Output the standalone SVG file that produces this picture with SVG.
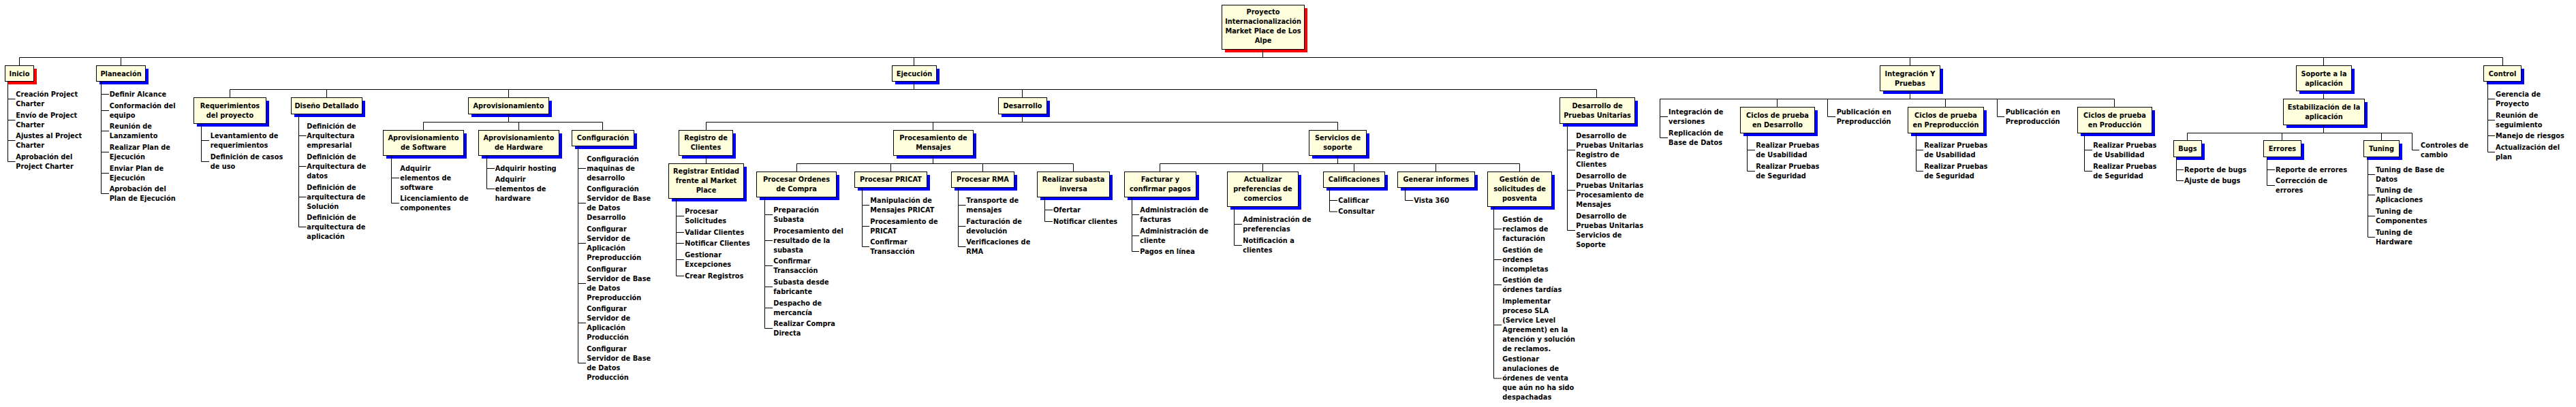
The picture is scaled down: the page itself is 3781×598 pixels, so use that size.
<svg xmlns="http://www.w3.org/2000/svg" width="3781" height="598" viewBox="0 0 3781 598">
<style>
.s{fill:#0000FF}.r{fill:#FF0000}
.b{fill:#FFFFDD;stroke:#000;stroke-width:1}
text{font-family:"DejaVu Sans",Verdana,sans-serif;font-size:9.8px;font-weight:bold;fill:#000}
.c{text-anchor:middle}
.k{stroke:#000;stroke-width:1;fill:none}
</style>
<rect width="3781" height="598" fill="#fff"/>
<g id="nodes">
<g id="n-root"><rect class="r" x="1798" y="12" width="121" height="65"/><rect class="b" x="1793.5" y="7.5" width="121" height="65"/><text class="c" x="1854" y="21.4">Proyecto<tspan x="1854" dy="14">Internacionalización</tspan><tspan x="1854" dy="14">Market Place de Los</tspan><tspan x="1854" dy="14">Alpe</tspan></text></g>
<g id="n-inicio"><rect class="r" x="12" y="101" width="42" height="23"/><rect class="b" x="7.5" y="96.5" width="42" height="23"/><text class="c" x="28.5" y="111.8">Inicio</text></g>
<g id="n-planeacion"><rect class="s" x="146" y="101" width="72" height="23"/><rect class="b" x="141.5" y="96.5" width="72" height="23"/><text class="c" x="177.5" y="111.8">Planeación</text></g>
<g id="n-ejecucion"><rect class="s" x="1314" y="101" width="65" height="23"/><rect class="b" x="1309.5" y="96.5" width="65" height="23"/><text class="c" x="1342" y="111.8">Ejecución</text></g>
<g id="n-integracion"><rect class="s" x="2764" y="101" width="88" height="37"/><rect class="b" x="2759.5" y="96.5" width="88" height="37"/><text class="c" x="2803.5" y="111.5">Integración Y<tspan x="2803.5" dy="14">Pruebas</tspan></text></g>
<g id="n-soporte"><rect class="s" x="3375" y="101" width="81" height="37"/><rect class="b" x="3370.5" y="96.5" width="81" height="37"/><text class="c" x="3411" y="111.5">Soporte a la<tspan x="3411" dy="14">aplicación</tspan></text></g>
<g id="n-control"><rect class="s" x="3650" y="101" width="55" height="23"/><rect class="b" x="3645.5" y="96.5" width="55" height="23"/><text class="c" x="3673" y="111.8">Control</text></g>
<g id="n-requerimientos"><rect class="s" x="289" y="148" width="106" height="38"/><rect class="b" x="284.5" y="143.5" width="106" height="38"/><text class="c" x="337.5" y="158.8">Requerimientos<tspan x="337.5" dy="14">del proyecto</tspan></text></g>
<g id="n-diseno"><rect class="s" x="432" y="148" width="104" height="24"/><rect class="b" x="427.5" y="143.5" width="104" height="24"/><text class="c" x="479.5" y="158.8">Diseño Detallado</text></g>
<g id="n-aprov"><rect class="s" x="692" y="148" width="118" height="24"/><rect class="b" x="687.5" y="143.5" width="118" height="24"/><text class="c" x="746.5" y="158.8">Aprovisionamiento</text></g>
<g id="n-desarrollo"><rect class="s" x="1470" y="148" width="71" height="24"/><rect class="b" x="1465.5" y="143.5" width="71" height="24"/><text class="c" x="1501" y="158.8">Desarrollo</text></g>
<g id="n-dpu"><rect class="s" x="2294" y="148" width="110" height="38"/><rect class="b" x="2289.5" y="143.5" width="110" height="38"/><text class="c" x="2344.5" y="158.8">Desarrollo de<tspan x="2344.5" dy="14">Pruebas Unitarias</tspan></text></g>
<g id="n-sw"><rect class="s" x="567" y="196" width="118" height="37"/><rect class="b" x="562.5" y="191.5" width="118" height="37"/><text class="c" x="621.5" y="205.8">Aprovisionamiento<tspan x="621.5" dy="14">de Software</tspan></text></g>
<g id="n-hw"><rect class="s" x="707" y="196" width="118" height="37"/><rect class="b" x="702.5" y="191.5" width="118" height="37"/><text class="c" x="761.5" y="205.8">Aprovisionamiento<tspan x="761.5" dy="14">de Hardware</tspan></text></g>
<g id="n-config"><rect class="s" x="844" y="196" width="91" height="23"/><rect class="b" x="839.5" y="191.5" width="91" height="23"/><text class="c" x="885" y="205.8">Configuración</text></g>
<g id="n-registro"><rect class="s" x="1001" y="196" width="79" height="37"/><rect class="b" x="996.5" y="191.5" width="79" height="37"/><text class="c" x="1036" y="205.5">Registro de<tspan x="1036" dy="14">Clientes</tspan></text></g>
<g id="n-registrar"><rect class="s" x="986" y="245" width="110" height="51"/><rect class="b" x="981.5" y="240.5" width="110" height="51"/><text class="c" x="1036.5" y="254.5">Registrar Entidad<tspan x="1036.5" dy="14">frente al Market</tspan><tspan x="1036.5" dy="14">Place</tspan></text></g>
<g id="n-procmsg"><rect class="s" x="1316" y="196" width="117" height="37"/><rect class="b" x="1311.5" y="191.5" width="117" height="37"/><text class="c" x="1370" y="205.8">Procesamiento de<tspan x="1370" dy="14">Mensajes</tspan></text></g>
<g id="n-servicios"><rect class="s" x="1926" y="196" width="84" height="37"/><rect class="b" x="1921.5" y="191.5" width="84" height="37"/><text class="c" x="1963.5" y="205.5">Servicios de<tspan x="1963.5" dy="14">soporte</tspan></text></g>
<g id="n-ordenes"><rect class="s" x="1115" y="257" width="117" height="37"/><rect class="b" x="1110.5" y="252.5" width="117" height="37"/><text class="c" x="1169" y="266.5">Procesar Ordenes<tspan x="1169" dy="14">de Compra</tspan></text></g>
<g id="n-pricat"><rect class="s" x="1259" y="257" width="106" height="23"/><rect class="b" x="1254.5" y="252.5" width="106" height="23"/><text class="c" x="1307.5" y="266.5">Procesar PRICAT</text></g>
<g id="n-rma"><rect class="s" x="1401" y="257" width="92" height="23"/><rect class="b" x="1396.5" y="252.5" width="92" height="23"/><text class="c" x="1442.5" y="266.5">Procesar RMA</text></g>
<g id="n-subasta"><rect class="s" x="1527" y="257" width="106" height="37"/><rect class="b" x="1522.5" y="252.5" width="106" height="37"/><text class="c" x="1575.5" y="266.5">Realizar subasta<tspan x="1575.5" dy="14">inversa</tspan></text></g>
<g id="n-facturar"><rect class="s" x="1655" y="257" width="105" height="37"/><rect class="b" x="1650.5" y="252.5" width="105" height="37"/><text class="c" x="1703" y="266.5">Facturar y<tspan x="1703" dy="14">confirmar pagos</tspan></text></g>
<g id="n-actualizar"><rect class="s" x="1806" y="257" width="104" height="51"/><rect class="b" x="1801.5" y="252.5" width="104" height="51"/><text class="c" x="1853.5" y="266.5">Actualizar<tspan x="1853.5" dy="14">preferencias de</tspan><tspan x="1853.5" dy="14">comercios</tspan></text></g>
<g id="n-calif"><rect class="s" x="1947" y="257" width="90" height="23"/><rect class="b" x="1942.5" y="252.5" width="90" height="23"/><text class="c" x="1987.5" y="266.5">Calificaciones</text></g>
<g id="n-generar"><rect class="s" x="2056" y="257" width="113" height="23"/><rect class="b" x="2051.5" y="252.5" width="113" height="23"/><text class="c" x="2108" y="266.5">Generar informes</text></g>
<g id="n-posventa"><rect class="s" x="2188" y="257" width="94" height="51"/><rect class="b" x="2183.5" y="252.5" width="94" height="51"/><text class="c" x="2230.5" y="266.5">Gestión de<tspan x="2230.5" dy="14">solicitudes de</tspan><tspan x="2230.5" dy="14">posventa</tspan></text></g>
<g id="n-ciclos-dev"><rect class="s" x="2559" y="162" width="109" height="38"/><rect class="b" x="2554.5" y="157.5" width="109" height="38"/><text class="c" x="2609" y="172.8">Ciclos de prueba<tspan x="2609" dy="14">en Desarrollo</tspan></text></g>
<g id="n-ciclos-pre"><rect class="s" x="2805" y="162" width="111" height="38"/><rect class="b" x="2800.5" y="157.5" width="111" height="38"/><text class="c" x="2856" y="172.8">Ciclos de prueba<tspan x="2856" dy="14">en Preproducción</tspan></text></g>
<g id="n-ciclos-prod"><rect class="s" x="3054" y="162" width="109" height="38"/><rect class="b" x="3049.5" y="157.5" width="109" height="38"/><text class="c" x="3104" y="172.8">Ciclos de prueba<tspan x="3104" dy="14">en Producción</tspan></text></g>
<g id="n-estab"><rect class="s" x="3356" y="150" width="119" height="38"/><rect class="b" x="3351.5" y="145.5" width="119" height="38"/><text class="c" x="3411" y="160.5">Estabilización de la<tspan x="3411" dy="14">aplicación</tspan></text></g>
<g id="n-bugs"><rect class="s" x="3195" y="211" width="41" height="24"/><rect class="b" x="3190.5" y="206.5" width="41" height="24"/><text class="c" x="3211" y="221.5">Bugs</text></g>
<g id="n-errores"><rect class="s" x="3327" y="211" width="55" height="24"/><rect class="b" x="3322.5" y="206.5" width="55" height="24"/><text class="c" x="3350" y="221.5">Errores</text></g>
<g id="n-tuning"><rect class="s" x="3474" y="211" width="52" height="24"/><rect class="b" x="3469.5" y="206.5" width="52" height="24"/><text class="c" x="3495.5" y="221.5">Tuning</text></g>
</g>
<g id="leaves">
<g id="l-inicio">
<text x="23.3" y="141.5">Creación Project<tspan x="23.3" dy="14">Charter</tspan></text>
<text x="23.3" y="172.5">Envío de Project<tspan x="23.3" dy="14">Charter</tspan></text>
<text x="23.3" y="202.8">Ajustes al Project<tspan x="23.3" dy="14">Charter</tspan></text>
<text x="23.3" y="233.8">Aprobación del<tspan x="23.3" dy="14">Project Charter</tspan></text>
</g>
<g id="l-planeacion">
<text x="160.7" y="141.5">Definir Alcance</text>
<text x="160.7" y="158.8">Conformación del<tspan x="160.7" dy="14">equipo</tspan></text>
<text x="160.7" y="188.5">Reunión de<tspan x="160.7" dy="14">Lanzamiento</tspan></text>
<text x="160.7" y="219.8">Realizar Plan de<tspan x="160.7" dy="14">Ejecución</tspan></text>
<text x="160.7" y="250.8">Enviar Plan de<tspan x="160.7" dy="14">Ejecución</tspan></text>
<text x="160.7" y="280.8">Aprobación del<tspan x="160.7" dy="14">Plan de Ejecución</tspan></text>
</g>
<g id="l-requerimientos">
<text x="308.7" y="202.5">Levantamiento de<tspan x="308.7" dy="14">requerimientos</tspan></text>
<text x="308.7" y="233.8">Definición de casos<tspan x="308.7" dy="14">de uso</tspan></text>
</g>
<g id="l-diseno">
<text x="450.3" y="188.8">Definición de<tspan x="450.3" dy="14">Arquitectura</tspan><tspan x="450.3" dy="14">empresarial</tspan></text>
<text x="450.3" y="233.8">Definición de<tspan x="450.3" dy="14">Arquitectura de</tspan><tspan x="450.3" dy="14">datos</tspan></text>
<text x="450.3" y="278.5">Definición de<tspan x="450.3" dy="14">arquitectura de</tspan><tspan x="450.3" dy="14">Solución</tspan></text>
<text x="450.3" y="322.5">Definición de<tspan x="450.3" dy="14">arquitectura de</tspan><tspan x="450.3" dy="14">aplicación</tspan></text>
</g>
<g id="l-sw">
<text x="587.3" y="250.5">Adquirir<tspan x="587.3" dy="14">elementos de</tspan><tspan x="587.3" dy="14">software</tspan></text>
<text x="587.3" y="294.5">Licenciamiento de<tspan x="587.3" dy="14">componentes</tspan></text>
</g>
<g id="l-hw">
<text x="726.7" y="250.5">Adquirir hosting</text>
<text x="726.7" y="266.5">Adquirir<tspan x="726.7" dy="14">elementos de</tspan><tspan x="726.7" dy="14">hardware</tspan></text>
</g>
<g id="l-config">
<text x="861.3" y="236.5">Configuración<tspan x="861.3" dy="14">maquinas de</tspan><tspan x="861.3" dy="14">desarrollo</tspan></text>
<text x="861.3" y="280.5">Configuración<tspan x="861.3" dy="14">Servidor de Base</tspan><tspan x="861.3" dy="14">de Datos</tspan><tspan x="861.3" dy="14">Desarrollo</tspan></text>
<text x="861.3" y="339.5">Configurar<tspan x="861.3" dy="14">Servidor de</tspan><tspan x="861.3" dy="14">Aplicación</tspan><tspan x="861.3" dy="14">Preproducción</tspan></text>
<text x="861.3" y="398.5">Configurar<tspan x="861.3" dy="14">Servidor de Base</tspan><tspan x="861.3" dy="14">de Datos</tspan><tspan x="861.3" dy="14">Preproducción</tspan></text>
<text x="861.3" y="456.5">Configurar<tspan x="861.3" dy="14">Servidor de</tspan><tspan x="861.3" dy="14">Aplicación</tspan><tspan x="861.3" dy="14">Producción</tspan></text>
<text x="861.3" y="515.5">Configurar<tspan x="861.3" dy="14">Servidor de Base</tspan><tspan x="861.3" dy="14">de Datos</tspan><tspan x="861.3" dy="14">Producción</tspan></text>
</g>
<g id="l-registrar">
<text x="1005.3" y="313.5">Procesar<tspan x="1005.3" dy="14">Solicitudes</tspan></text>
<text x="1005.3" y="344.5">Validar Clientes</text>
<text x="1005.3" y="360.5">Notificar Clientes</text>
<text x="1005.3" y="377.5">Gestionar<tspan x="1005.3" dy="14">Excepciones</tspan></text>
<text x="1005.3" y="408.5">Crear Registros</text>
</g>
<g id="l-ordenes">
<text x="1135.3" y="311.5">Preparación<tspan x="1135.3" dy="14">Subasta</tspan></text>
<text x="1135.3" y="342.5">Procesamiento del<tspan x="1135.3" dy="14">resultado de la</tspan><tspan x="1135.3" dy="14">subasta</tspan></text>
<text x="1135.3" y="386.5">Confirmar<tspan x="1135.3" dy="14">Transacción</tspan></text>
<text x="1135.3" y="417.5">Subasta desde<tspan x="1135.3" dy="14">fabricante</tspan></text>
<text x="1135.3" y="448.5">Despacho de<tspan x="1135.3" dy="14">mercancía</tspan></text>
<text x="1135.3" y="478.5">Realizar Compra<tspan x="1135.3" dy="14">Directa</tspan></text>
</g>
<g id="l-pricat">
<text x="1277.3" y="297.5">Manipulación de<tspan x="1277.3" dy="14">Mensajes PRICAT</tspan></text>
<text x="1277.3" y="328.5">Procesamiento de<tspan x="1277.3" dy="14">PRICAT</tspan></text>
<text x="1277.3" y="358.5">Confirmar<tspan x="1277.3" dy="14">Transacción</tspan></text>
</g>
<g id="l-rma">
<text x="1418.3" y="297.5">Transporte de<tspan x="1418.3" dy="14">mensajes</tspan></text>
<text x="1418.3" y="328.5">Facturación de<tspan x="1418.3" dy="14">devolución</tspan></text>
<text x="1418.3" y="358.5">Verificaciones de<tspan x="1418.3" dy="14">RMA</tspan></text>
</g>
<g id="l-subasta">
<text x="1546" y="311.5">Ofertar</text>
<text x="1546" y="328.5">Notificar clientes</text>
</g>
<g id="l-facturar">
<text x="1673.3" y="311.5">Administración de<tspan x="1673.3" dy="14">facturas</tspan></text>
<text x="1673.3" y="342.5">Administración de<tspan x="1673.3" dy="14">cliente</tspan></text>
<text x="1673.3" y="372.5">Pagos en línea</text>
</g>
<g id="l-actualizar">
<text x="1824.3" y="325.8">Administración de<tspan x="1824.3" dy="14">preferencias</tspan></text>
<text x="1824.3" y="356.7">Notificación a<tspan x="1824.3" dy="14">clientes</tspan></text>
</g>
<g id="l-calif">
<text x="1964.3" y="297.5">Calificar</text>
<text x="1964.3" y="314.3">Consultar</text>
</g>
<g id="l-generar">
<text x="2075.3" y="297.5">Vista 360</text>
</g>
<g id="l-posventa">
<text x="2205.3" y="325.5">Gestión de<tspan x="2205.3" dy="14">reclamos de</tspan><tspan x="2205.3" dy="14">facturación</tspan></text>
<text x="2205.3" y="370.5">Gestión de<tspan x="2205.3" dy="14">ordenes</tspan><tspan x="2205.3" dy="14">incompletas</tspan></text>
<text x="2205.3" y="414.5">Gestión de<tspan x="2205.3" dy="14">órdenes tardías</tspan></text>
<text x="2205.3" y="445.5">Implementar<tspan x="2205.3" dy="14">proceso SLA</tspan><tspan x="2205.3" dy="14">(Service Level</tspan><tspan x="2205.3" dy="14">Agreement) en la</tspan><tspan x="2205.3" dy="14">atención y solución</tspan><tspan x="2205.3" dy="14">de reclamos.</tspan></text>
<text x="2205.3" y="531.2">Gestionar<tspan x="2205.3" dy="14">anulaciones de</tspan><tspan x="2205.3" dy="14">órdenes de venta</tspan><tspan x="2205.3" dy="14">que aún no ha sido</tspan><tspan x="2205.3" dy="14">despachadas</tspan></text>
</g>
<g id="l-dpu">
<text x="2313.3" y="202.5">Desarrollo de<tspan x="2313.3" dy="14">Pruebas Unitarias</tspan><tspan x="2313.3" dy="14">Registro de</tspan><tspan x="2313.3" dy="14">Clientes</tspan></text>
<text x="2313.3" y="261.5">Desarrollo de<tspan x="2313.3" dy="14">Pruebas Unitarias</tspan><tspan x="2313.3" dy="14">Procesamiento de</tspan><tspan x="2313.3" dy="14">Mensajes</tspan></text>
<text x="2313.3" y="320.5">Desarrollo de<tspan x="2313.3" dy="14">Pruebas Unitarias</tspan><tspan x="2313.3" dy="14">Servicios de</tspan><tspan x="2313.3" dy="14">Soporte</tspan></text>
</g>
<g id="l-integracion">
<text x="2449.1" y="167.5">Integración de<tspan x="2449.1" dy="14">versiones</tspan></text>
<text x="2449.1" y="198.5">Replicación de<tspan x="2449.1" dy="14">Base de Datos</tspan></text>
</g>
<g id="l-publicacion-1"><text x="2695.7" y="167.5">Publicación en<tspan x="2695.7" dy="14">Preproducción</tspan></text></g>
<g id="l-publicacion-2"><text x="2943.7" y="167.5">Publicación en<tspan x="2943.7" dy="14">Preproducción</tspan></text></g>
<g id="l-ciclos-dev">
<text x="2577.3" y="216.8">Realizar Pruebas<tspan x="2577.3" dy="14">de Usabilidad</tspan></text>
<text x="2577.3" y="247.8">Realizar Pruebas<tspan x="2577.3" dy="14">de Seguridad</tspan></text>
</g>
<g id="l-ciclos-pre">
<text x="2824.3" y="216.8">Realizar Pruebas<tspan x="2824.3" dy="14">de Usabilidad</tspan></text>
<text x="2824.3" y="247.8">Realizar Pruebas<tspan x="2824.3" dy="14">de Seguridad</tspan></text>
</g>
<g id="l-ciclos-prod">
<text x="3072.3" y="216.8">Realizar Pruebas<tspan x="3072.3" dy="14">de Usabilidad</tspan></text>
<text x="3072.3" y="247.8">Realizar Pruebas<tspan x="3072.3" dy="14">de Seguridad</tspan></text>
</g>
<g id="l-bugs">
<text x="3206" y="252.5">Reporte de bugs</text>
<text x="3206" y="268.5">Ajuste de bugs</text>
</g>
<g id="l-errores">
<text x="3340.1" y="252.5">Reporte de errores</text>
<text x="3340.1" y="268.5">Corrección de<tspan x="3340.1" dy="14">errores</tspan></text>
</g>
<g id="l-tuning">
<text x="3487" y="252.5">Tuning de Base de<tspan x="3487" dy="14">Datos</tspan></text>
<text x="3487" y="282.5">Tuning de<tspan x="3487" dy="14">Aplicaciones</tspan></text>
<text x="3487" y="313.5">Tuning de<tspan x="3487" dy="14">Componentes</tspan></text>
<text x="3487" y="344.5">Tuning de<tspan x="3487" dy="14">Hardware</tspan></text>
</g>
<g id="l-controles"><text x="3553.1" y="216.5">Controles de<tspan x="3553.1" dy="14">cambio</tspan></text></g>
<g id="l-control">
<text x="3663.1" y="141.5">Gerencia de<tspan x="3663.1" dy="14">Proyecto</tspan></text>
<text x="3663.1" y="172.5">Reunión de<tspan x="3663.1" dy="14">seguimiento</tspan></text>
<text x="3663.1" y="202.5">Manejo de riesgos</text>
<text x="3663.1" y="219.5">Actualización del<tspan x="3663.1" dy="14">plan</tspan></text>
</g>
</g>
<g id="connectors" class="k">
<path d="M1853.5,72.5V84.5M28.5,84.5H3673.5M28.5,84.5V96.5M177.5,84.5V96.5M1341.5,84.5V96.5M2803.5,84.5V96.5M3410.5,84.5V96.5M3673.5,84.5V96.5"/>
<path d="M1341.5,119.5V131.5M337.5,131.5H2343.5M337.5,131.5V143.5M479.5,131.5V143.5M746.5,131.5V143.5M1500.5,131.5V143.5M2343.5,131.5V143.5"/>
<path d="M746.5,167.5V179.5M621.5,179.5H884.5M621.5,179.5V191.5M761.5,179.5V191.5M884.5,179.5V191.5"/>
<path d="M1500.5,167.5V179.5M1036.5,179.5H1963.5M1036.5,179.5V191.5M1369.5,179.5V191.5M1963.5,179.5V191.5M1036.5,228.5V240.5"/>
<path d="M1369.5,228.5V240.5M1169.5,240.5H1575.5M1169.5,240.5V252.5M1307.5,240.5V252.5M1442.5,240.5V252.5M1575.5,240.5V252.5"/>
<path d="M1963.5,228.5V240.5M1702.5,240.5H2230.5M1702.5,240.5V252.5M1853.5,240.5V252.5M1987.5,240.5V252.5M2107.5,240.5V252.5M2230.5,240.5V252.5"/>
<path d="M2803.5,133.5V145.5M2436.5,145.5H3103.5M2608.5,145.5V157.5M2855.5,145.5V157.5M3103.5,145.5V157.5M2436.5,145.5V202.5M2436.5,171.5H2448M2436.5,202.5H2448M2682.5,145.5V171.5H2694M2931.5,145.5V171.5H2942"/>
<path d="M3410.5,133.5V145.5M3410.5,183.5V195.5M3210.5,195.5H3540.5M3210.5,195.5V206.5M3349.5,195.5V206.5M3495.5,195.5V206.5M3540.5,195.5V220.5H3551"/>
<path d="M11.5,119.5V237.5M11.5,145.5H22.5M11.5,176.5H22.5M11.5,206.5H22.5M11.5,237.5H22.5"/>
<path d="M148.5,119.5V284.5M148.5,138.5H160M148.5,162.5H160M148.5,192.5H160M148.5,223.5H160M148.5,254.5H160M148.5,284.5H160"/>
<path d="M295.5,181.5V237.5M295.5,206.5H307M295.5,237.5H307"/>
<path d="M438.5,167.5V333.5M438.5,199.5H449.5M438.5,244.5H449.5M438.5,289.5H449.5M438.5,333.5H449.5"/>
<path d="M574.5,228.5V298.5M574.5,261.5H586M574.5,298.5H586"/>
<path d="M714.5,228.5V277.5M714.5,247.5H726M714.5,277.5H726"/>
<path d="M848.5,214.5V533.5M848.5,247.5H860M848.5,298.5H860M848.5,357.5H860M848.5,416.5H860M848.5,474.5H860M848.5,533.5H860"/>
<path d="M992.5,291.5V405.5M992.5,317.5H1004M992.5,341.5H1004M992.5,357.5H1004M992.5,381.5H1004M992.5,405.5H1004"/>
<path d="M1122.5,289.5V482.5M1122.5,315.5H1134M1122.5,353.5H1134M1122.5,390.5H1134M1122.5,421.5H1134M1122.5,452.5H1134M1122.5,482.5H1134"/>
<path d="M1265.5,275.5V362.5M1265.5,301.5H1276M1265.5,332.5H1276M1265.5,362.5H1276"/>
<path d="M1406.5,275.5V362.5M1406.5,301.5H1417.5M1406.5,332.5H1417.5M1406.5,362.5H1417.5"/>
<path d="M1533.5,289.5V325.5M1533.5,308.5H1545M1533.5,325.5H1545"/>
<path d="M1661.5,289.5V369.5M1661.5,315.5H1672M1661.5,346.5H1672M1661.5,369.5H1672"/>
<path d="M1811.5,303.5V360.5M1811.5,329.5H1823M1811.5,360.5H1823"/>
<path d="M1951.5,275.5V311M1951.5,294.5H1963M1951.5,311H1963"/>
<path d="M2062.5,275.5V294.5H2074"/>
<path d="M2192.5,303.5V556M2192.5,336.5H2204M2192.5,381.5H2204M2192.5,418.5H2204M2192.5,477.5H2204M2192.5,556H2204"/>
<path d="M2300.5,181.5V338.5M2300.5,220.5H2312M2300.5,279.5H2312M2300.5,338.5H2312"/>
<path d="M2564.5,195.5V251.5M2564.5,220.5H2576M2564.5,251.5H2576"/>
<path d="M2812.5,195.5V251.5M2812.5,220.5H2823M2812.5,251.5H2823"/>
<path d="M3059.5,195.5V251.5M3059.5,220.5H3071M3059.5,251.5H3071"/>
<path d="M3194.5,230.5V265.5M3194.5,249.5H3205M3194.5,265.5H3205"/>
<path d="M3327.5,230.5V272.5M3327.5,249.5H3339M3327.5,272.5H3339"/>
<path d="M3475.5,230.5V348.5M3475.5,256.5H3486M3475.5,286.5H3486M3475.5,317.5H3486M3475.5,348.5H3486"/>
<path d="M3651.5,119.5V223.5M3651.5,145.5H3662M3651.5,176.5H3662M3651.5,199.5H3662M3651.5,223.5H3662"/>
</g>
</svg>
